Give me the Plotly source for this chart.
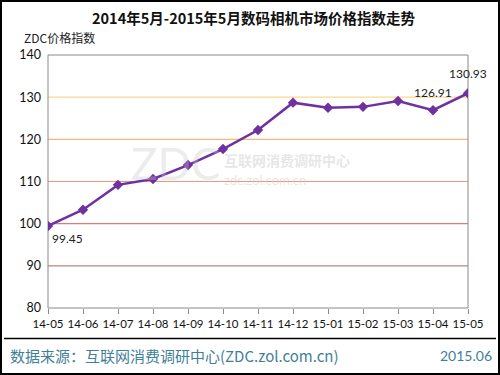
import plotly.graph_objects as go

months = ["14-05","14-06","14-07","14-08","14-09","14-10","14-11","14-12",
          "15-01","15-02","15-03","15-04","15-05"]
index_vals = [99.45, 103.3, 109.2, 110.6, 113.9, 117.7, 122.2, 128.7,
              127.5, 127.7, 129.1, 126.91, 130.93]
y_ticks = [80, 90, 100, 110, 120, 130, 140]
grid_colors = {90: "#b98585", 100: "#e27878", 110: "#f0947c", 120: "#f6b87e", 130: "#f9d98c"}

W, H = 500, 375
ML, MR, MT, MB = 48, 32, 55, 67
PW, PH = W - ML - MR, H - MT - MB

def px(x):  # pixel x -> paper
    return (x - ML) / PW

def py(y):  # pixel y (from top) -> paper
    return 1 - (y - MT) / PH

font_main = "Lato, 'Liberation Sans', sans-serif"
cjk = "'Noto Sans CJK SC', sans-serif"
fig = go.Figure()

xi = list(range(len(months)))
fig.add_trace(go.Scatter(
    x=xi, y=index_vals, mode="lines+markers",
    line=dict(color="#7030a0", width=2.5),
    marker=dict(symbol="diamond", size=8, color="#7030a0"),
    hoverinfo="skip", showlegend=False))

shapes = []
for v, c in grid_colors.items():
    shapes.append(dict(type="line", xref="paper", yref="y", x0=0, x1=1, y0=v, y1=v,
                       line=dict(color=c, width=1.2), layer="below"))
shapes.append(dict(type="rect", xref="paper", yref="paper", x0=0, x1=1, y0=0, y1=1,
                   line=dict(color="#8a8a8a", width=1), layer="below"))
shapes.append(dict(type="line", xref="paper", yref="paper", x0=px(4), x1=px(496),
                   y0=py(338.5), y1=py(338.5), line=dict(color="#000000", width=1.5)))
shapes.append(dict(type="rect", xref="paper", yref="paper", x0=px(1), x1=px(499),
                   y0=py(374), y1=py(1), line=dict(color="#000000", width=2)))

def pa(text, x, y, xa, size, color, family):
    return dict(text=text, xref="paper", yref="paper", x=px(x), y=py(y),
                xanchor=xa, yanchor="middle", showarrow=False,
                font=dict(size=size, color=color, family=family))

ann = []
ann.append(pa("<b>2014年5月-2015年5月数码相机市场价格指数走势</b>", 253, 18, "center", 14.5, "#111111", cjk))
ann.append(pa("ZDC价格指数", 22, 38, "left", 12, "#222222", cjk))
ann.append(pa("数据来源：互联网消费调研中心(ZDC.zol.com.cn)", 8, 355, "left", 15, "#3f7f98", cjk))
ann.append(pa("2015.06", 494, 355, "right", 14, "#3f7f98", font_main))
# watermark
ann.append(pa("ZDC", 175, 163, "center", 44, "rgba(200,200,200,0.35)", font_main))
ann.append(pa("<b>互联网消费调研中心</b>", 222, 160, "left", 14, "rgba(200,200,200,0.45)", cjk))
ann.append(pa("zdc.zol.com.cn", 222, 180, "left", 13, "rgba(200,200,200,0.45)", font_main))

lab_font = dict(size=12, color="#222222", family=font_main)
ann.append(dict(text=f"{index_vals[0]:.2f}", x=xi[0], y=index_vals[0], xref="x", yref="y",
                showarrow=False, xshift=19, yshift=-13, font=lab_font))
ann.append(dict(text=f"{index_vals[11]:.2f}", x=xi[11], y=index_vals[11], xref="x", yref="y",
                showarrow=False, xshift=0, yshift=18, font=lab_font))
ann.append(dict(text=f"{index_vals[12]:.2f}", x=xi[12], y=index_vals[12], xref="x", yref="y",
                showarrow=False, xshift=0, yshift=20, font=lab_font))

fig.update_layout(
    width=W, height=H, margin=dict(l=ML, r=MR, t=MT, b=MB),
    paper_bgcolor="white", plot_bgcolor="white",
    shapes=shapes, annotations=ann,
    xaxis=dict(range=[0, len(months) - 1], tickmode="array", tickvals=xi, ticktext=months,
               showgrid=False, zeroline=False, showline=False,
               ticks="outside", ticklen=5, tickcolor="#8a8a8a",
               tickfont=dict(size=11.5, color="#111111", family=font_main)),
    yaxis=dict(range=[80, 140], tickmode="array", tickvals=y_ticks,
               showgrid=False, zeroline=False, showline=False, ticks="",
               ticklabelstandoff=6,
               tickfont=dict(size=12.5, color="#111111", family=font_main)),
)

fig.write_html("out.html", config={"displayModeBar": False, "staticPlot": True},
               post_script="document.body.style.margin='0';document.body.style.overflow='hidden';")
